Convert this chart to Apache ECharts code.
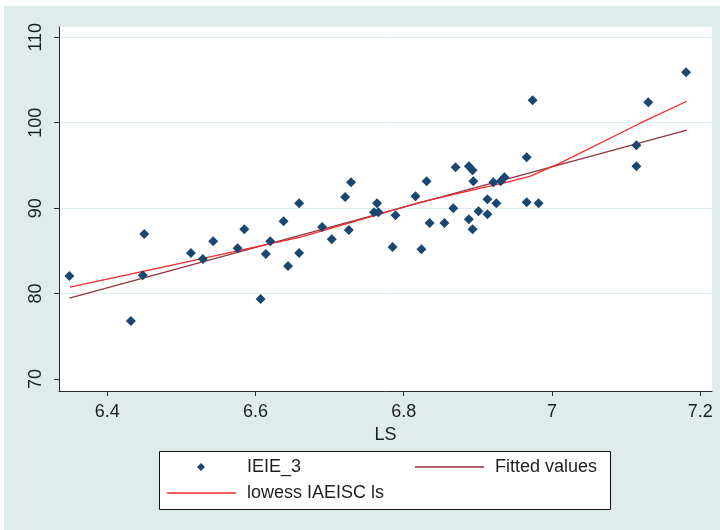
<!DOCTYPE html>
<html>
<head>
<meta charset="utf-8">
<script src="https://cdn.jsdelivr.net/npm/echarts@6/dist/echarts.min.js"></script>
<style>
  html, body { margin: 0; padding: 0; background: #ffffff; }
  #chart { width: 720px; height: 530px; }
</style>
</head>
<body>
<div id="chart"></div>
<script>
// Observations: LS (x) against IEIE_3 (y)
const ls = [
  6.349, 6.432, 6.450, 6.448, 6.513, 6.529, 6.543, 6.576, 6.585, 6.607,
  6.614, 6.620, 6.638, 6.644, 6.659, 6.659, 6.690, 6.703, 6.721, 6.729,
  6.726, 6.760, 6.764, 6.766, 6.789, 6.785, 6.816, 6.824, 6.831, 6.835,
  6.855, 6.870, 6.867, 6.888, 6.893, 6.888, 6.893, 6.894, 6.901, 6.913,
  6.913, 6.921, 6.925, 6.931, 6.936, 6.966, 6.966, 6.974, 6.982, 7.114,
  7.114, 7.130, 7.181
];
const ieie3 = [
  82.05, 76.78, 86.96, 82.16, 84.74, 84.04, 86.14, 85.32, 87.54, 79.36,
  84.62, 86.14, 88.48, 83.22, 90.58, 84.74, 87.78, 86.37, 91.29, 93.04,
  87.43, 89.53, 90.58, 89.53, 89.18, 85.44, 91.40, 85.20, 93.16, 88.25,
  88.25, 94.80, 90.00, 94.91, 94.44, 88.71, 87.54, 93.16, 89.65, 89.30,
  91.05, 93.04, 90.58, 93.16, 93.63, 95.96, 90.70, 102.63, 90.58, 97.37,
  94.91, 102.40, 105.91
];

// Linear fit (end points of the fitted line)
const fitLs = [6.349, 7.182];
const fitValues = [79.47, 99.12];

// Lowess smooth
const lowessLs = [6.350, 6.500, 6.661, 6.823, 6.904, 6.940, 6.971, 7.011, 7.119, 7.182];
const lowessValues = [80.76, 83.57, 86.61, 90.70, 92.34, 93.04, 93.74, 95.26, 99.94, 102.51];

const xTicks = [6.4, 6.6, 6.8, 7, 7.2];
const yTicks = [70, 80, 90, 100, 110];

const zip = (a, b) => a.map((v, i) => [v, b[i]]);

const FONT = 'Liberation Sans, Arial, sans-serif';
const INK = '#1e1e1e';
const AXIS = '#2a2a2a';
const BG = '#dfeceb';
const GRID = '#dcecec';

const legendText = (padLeft) => ({
  color: INK, fontSize: 18, fontFamily: FONT, padding: [0, 0, 0, padLeft]
});

const chart = echarts.init(document.getElementById('chart'), null, { renderer: 'canvas' });

chart.setOption({
  backgroundColor: BG,
  animation: false,
  textStyle: { fontFamily: FONT },
  graphic: [
    { type: 'rect', shape: { x: 0, y: 0, width: 720, height: 6 }, style: { fill: '#ffffff' }, silent: true },
    { type: 'rect', shape: { x: 0, y: 0, width: 4, height: 530 }, style: { fill: '#ffffff' }, silent: true },
    { type: 'rect', shape: { x: 159.5, y: 451.5, width: 451, height: 58 },
      style: { fill: '#ffffff', stroke: '#111111', lineWidth: 1 }, silent: true }
  ],
  grid: {
    left: 59, right: 8, top: 27, bottom: 139,
    show: true, backgroundColor: '#ffffff', borderWidth: 0
  },
  xAxis: {
    type: 'value',
    min: 6.335, max: 7.216,
    name: 'LS',
    nameLocation: 'middle',
    nameGap: 29,
    nameTextStyle: { color: INK, fontSize: 18, fontFamily: FONT },
    axisLine: { show: true, onZero: false, lineStyle: { color: AXIS, width: 1 } },
    axisTick: { show: true, length: 5, customValues: xTicks, lineStyle: { color: AXIS, width: 1 } },
    axisLabel: { customValues: xTicks, margin: 12, color: INK, fontSize: 18, fontFamily: FONT },
    splitLine: { show: false }
  },
  yAxis: {
    type: 'value',
    min: 68.6, max: 111.2,
    axisLine: { show: true, onZero: false, lineStyle: { color: AXIS, width: 1 } },
    axisTick: { show: true, length: 5, customValues: yTicks, lineStyle: { color: AXIS, width: 1 } },
    axisLabel: { customValues: yTicks, rotate: 90, margin: 14, color: INK, fontSize: 18, fontFamily: FONT },
    splitLine: { show: true, lineStyle: { color: ['rgba(0,0,0,0)', GRID, GRID, GRID, GRID], width: 1 } }
  },
  legend: [
    {
      data: [{ name: 'IEIE_3', icon: 'diamond' }],
      left: 197, top: 458, padding: 0, selectedMode: false,
      itemWidth: 8, itemHeight: 8,
      textStyle: legendText(37)
    },
    {
      data: [{ name: 'Fitted values', icon: 'rect' }],
      left: 415, top: 458, padding: 0, selectedMode: false,
      itemWidth: 69, itemHeight: 1.5, symbolKeepAspect: false,
      textStyle: legendText(6)
    },
    {
      data: [{ name: 'lowess IAEISC ls', icon: 'rect' }],
      left: 167, top: 484, padding: 0, selectedMode: false,
      itemWidth: 69, itemHeight: 1.5, symbolKeepAspect: false,
      textStyle: legendText(6)
    }
  ],
  series: [
    {
      name: 'IEIE_3',
      type: 'scatter',
      symbol: 'diamond',
      symbolSize: 10,
      itemStyle: { color: '#1a476f', opacity: 1 },
      data: zip(ls, ieie3),
      z: 3
    },
    {
      name: 'Fitted values',
      type: 'line',
      symbol: 'none',
      lineStyle: { color: '#90353b', width: 1.3 },
      itemStyle: { color: '#90353b' },
      data: zip(fitLs, fitValues),
      z: 2
    },
    {
      name: 'lowess IAEISC ls',
      type: 'line',
      symbol: 'none',
      lineStyle: { color: '#f22a2a', width: 1.3 },
      itemStyle: { color: '#f22a2a' },
      data: zip(lowessLs, lowessValues),
      z: 2
    }
  ]
});
</script>
</body>
</html>
